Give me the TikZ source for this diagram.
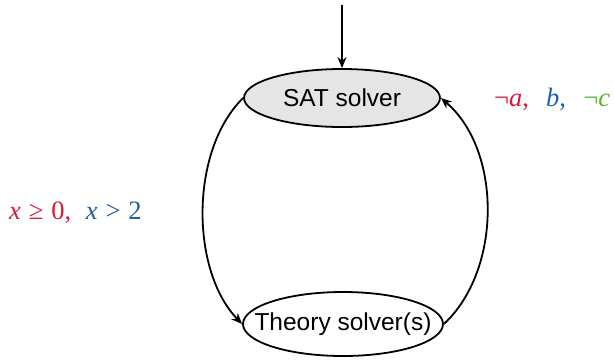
\documentclass[tikz,border=0pt]{standalone}
\usepackage{fontspec}
\setmainfont{Liberation Serif}
\newfontfamily\nodefont{Liberation Sans}
\usetikzlibrary{shapes.geometric,arrows.meta}
\definecolor{lred}{RGB}{215,25,60}
\definecolor{lblue}{RGB}{25,95,170}
\definecolor{lgreen}{RGB}{95,180,45}
\tikzset{
  solver/.style={draw, ellipse, line width=1.8pt, inner sep=0pt},
  txt/.style={font=\nodefont\fontsize{24.5}{26}\selectfont, inner sep=0pt},
  conn/.style={line width=1.8pt, -{Stealth[length=11pt,width=9pt]}},
  lab/.style={font=\fontsize{26.5}{28}\selectfont, inner sep=0pt}
}
\begin{document}
\begin{tikzpicture}[x=1pt,y=-1pt]
\useasboundingbox (0,0) rectangle (614,360);
\node[solver, fill=black!10, minimum width=196pt, minimum height=58pt] (sat) at (342,98) {};
\node[txt] (satt) at (sat) {SAT solver};
\node[solver, minimum width=200pt, minimum height=64pt] (th) at (343,324) {};
\node[txt] (tht) at (th) {Theory solver(s)};
\coordinate (start) at (342,5);
\draw[conn] (start) -- (sat.north);
\draw[conn] (sat.west) .. controls (190,150) and (190,270) .. (th.west);
\draw[conn] (th.east) .. controls (502,270) and (502,150) .. (sat.east);
\node[lab, anchor=base west] (l1) at (9,219) {\color{lred}\textit{x}\hspace{0.3em}≥\hspace{0.3em}0,\hspace{0.55em}\color{lblue}\textit{x}\hspace{0.3em}>\hspace{0.3em}2};
\node[lab, anchor=base west] (l2) at (494,106) {\color{lred}¬\textit{a},\hspace{0.65em}\color{lblue}\textit{b},\hspace{0.65em}\color{lgreen}¬\textit{c}};
\end{tikzpicture}
\end{document}
